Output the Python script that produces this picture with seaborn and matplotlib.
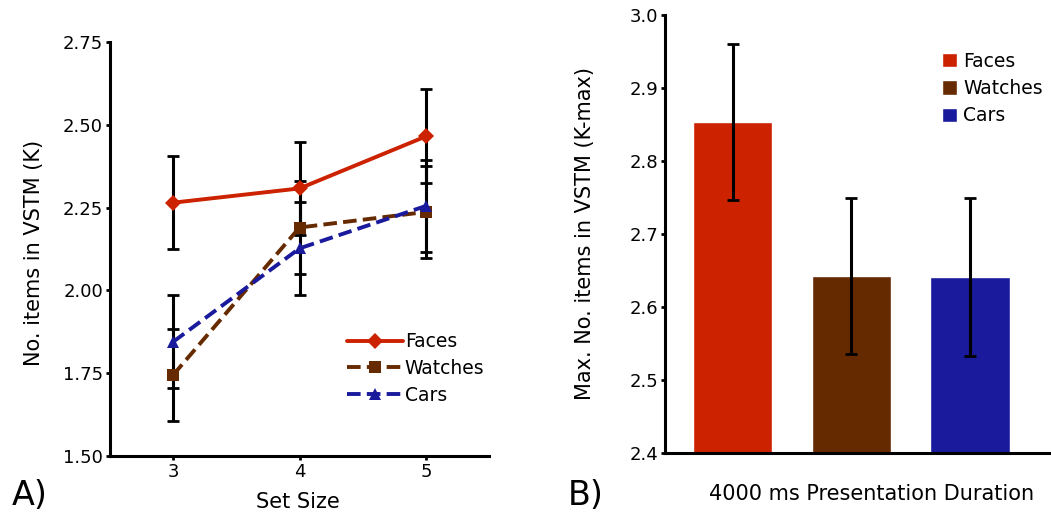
import pandas as pd
import seaborn as sns
import matplotlib.pyplot as plt

# data
set_sizes = [3, 4, 5]
faces_k = [2.265, 2.308, 2.465]
watches_k = [1.745, 2.190, 2.237]
cars_k = [1.845, 2.127, 2.255]
faces_err = [0.14, 0.14, 0.142]
watches_err = [0.14, 0.139, 0.14]
cars_err = [0.14, 0.14, 0.14]

categories = ["Faces", "Watches", "Cars"]
kmax = [2.853, 2.642, 2.641]
kmax_err = [0.107, 0.107, 0.108]

colors = {"Faces": "#CC2200", "Watches": "#662A00", "Cars": "#1A1A9C"}

sns.set_style("ticks", {"axes.edgecolor": "black", "text.color": "black",
                        "axes.labelcolor": "black", "xtick.color": "black",
                        "ytick.color": "black"})
plt.rcParams["font.family"] = ["DejaVu Sans"]

df_lines = pd.DataFrame({
    "set_size": set_sizes * 3,
    "k": faces_k + watches_k + cars_k,
    "category": ["Faces"] * 3 + ["Watches"] * 3 + ["Cars"] * 3,
})
errs = {"Faces": faces_err, "Watches": watches_err, "Cars": cars_err}
df_bars = pd.DataFrame({"category": categories, "kmax": kmax})

fig = plt.figure(figsize=(10.51, 5.14), dpi=100)
ax1 = fig.add_axes([0.1047, 0.1128, 0.3606, 0.8054])
ax2 = fig.add_axes([0.6327, 0.1187, 0.3673, 0.8521])

# 1. left panel: K by set size
for cat in categories:
    sub = df_lines[df_lines["category"] == cat]
    ax1.errorbar(sub["set_size"], sub["k"], yerr=errs[cat], fmt="none",
                 ecolor="black", elinewidth=2.2, capsize=4, capthick=2, zorder=1)

sns.lineplot(data=df_lines, x="set_size", y="k", hue="category", style="category",
             hue_order=categories, style_order=categories, palette=colors,
             markers={"Faces": "D", "Watches": "s", "Cars": "^"},
             dashes={"Faces": "", "Watches": (3.5, 1.6), "Cars": (3.5, 1.6)},
             linewidth=2.8, markersize=8, markeredgewidth=0, ax=ax1, zorder=3)

ax1.set_xlim(2.5, 5.5)
ax1.set_ylim(1.5, 2.75)
ax1.set_xticks(set_sizes)
ax1.set_yticks([1.50, 1.75, 2.00, 2.25, 2.50, 2.75])
ax1.set_yticklabels(["1.50", "1.75", "2.00", "2.25", "2.50", "2.75"])
ax1.set_xlabel("Set Size", fontsize=15)
ax1.set_ylabel("No. items in VSTM (K)", fontsize=15)
ax1.xaxis.set_label_coords(0.496, -0.088)
ax1.yaxis.set_label_coords(-0.175, 0.49)
sns.move_legend(ax1, "upper left", bbox_to_anchor=(0.58, 0.34), frameon=False,
                title=None, fontsize=13.5, handlelength=3.0, handletextpad=0.1,
                labelspacing=0.42)

# 2. right panel: K-max bars
sns.barplot(data=df_bars, x="category", y="kmax", hue="category", order=categories,
            hue_order=categories, palette=colors, width=0.67, saturation=1,
            legend=True, ax=ax2)
ax2.errorbar(range(len(categories)), kmax, yerr=kmax_err, fmt="none", ecolor="black",
             elinewidth=2.2, capsize=4, capthick=2, zorder=5)
ax2.set_xlim(-0.57, 2.68)
ax2.set_ylim(2.4, 3.0)
ax2.set_yticks([2.4, 2.5, 2.6, 2.7, 2.8, 2.9, 3.0])
ax2.set_xticks([])
ax2.set_xlabel("4000 ms Presentation Duration", fontsize=15)
ax2.set_ylabel("Max. No. items in VSTM (K-max)", fontsize=15)
ax2.xaxis.set_label_coords(0.536, -0.07)
ax2.yaxis.set_label_coords(-0.18, 0.5)
sns.move_legend(ax2, "upper left", bbox_to_anchor=(0.675, 0.955), frameon=False,
                title=None, fontsize=13.5, handlelength=0.8, handleheight=0.8,
                handletextpad=0.3, labelspacing=0.45)

for ax in (ax1, ax2):
    sns.despine(ax=ax)
    for side in ("left", "bottom"):
        ax.spines[side].set_linewidth(2.2)
    ax.tick_params(axis="both", labelsize=13, width=2, length=3, pad=2, colors="black")

fig.text(12 / 1051, 1 - 505 / 514, "A)", fontsize=24, va="baseline")
fig.text(568 / 1051, 1 - 505 / 514, "B)", fontsize=24, va="baseline")

plt.savefig("out.png", dpi=100)
